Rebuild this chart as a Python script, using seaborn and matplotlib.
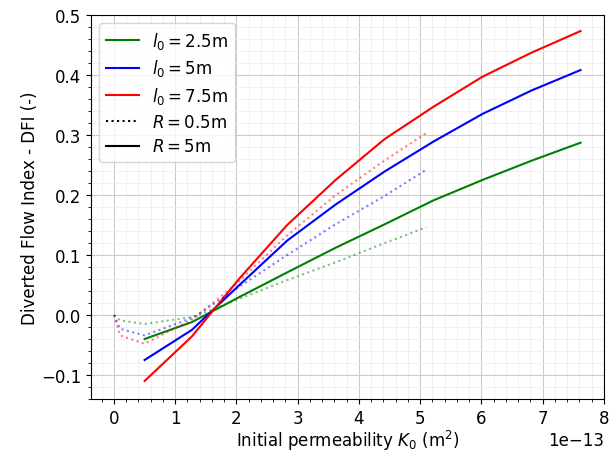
import numpy as np
import matplotlib
matplotlib.use('Agg')
import matplotlib.pyplot as plt
import seaborn as sns
from matplotlib.lines import Line2D

# Permeabilidad inicial (en unidades de 1e-13 m2)
k0_r5 = [0.5, 1.27, 2.05, 2.83, 3.62, 4.42, 5.22, 6.02, 6.82, 7.62]
k0_r05 = [0.0, 0.1, 0.5, 1.3, 2.0, 2.8, 3.6, 4.4, 5.1]

# DFI para R = 5 m
dfi_r5_l25 = [-0.040, -0.012, 0.030, 0.071, 0.112, 0.151, 0.191, 0.225, 0.257, 0.287]
dfi_r5_l5 = [-0.075, -0.025, 0.050, 0.124, 0.184, 0.239, 0.289, 0.335, 0.374, 0.408]
dfi_r5_l75 = [-0.110, -0.036, 0.061, 0.150, 0.225, 0.293, 0.347, 0.397, 0.437, 0.473]

# DFI para R = 0.5 m
dfi_r05_l25 = [0.0, -0.009, -0.015, -0.003, 0.025, 0.057, 0.087, 0.119, 0.146]
dfi_r05_l5 = [0.0, -0.023, -0.034, -0.004, 0.044, 0.098, 0.150, 0.197, 0.242]
dfi_r05_l75 = [0.0, -0.034, -0.048, -0.006, 0.052, 0.130, 0.198, 0.256, 0.303]

etiquetas = [r'$l_0 = 2.5$m', r'$l_0 = 5$m', r'$l_0 = 7.5$m', r'$R = 0.5$m', r'$R = 5$m']
colores = ['green', 'blue', 'red']

x5 = np.array(k0_r5) * 1e-13
x05 = np.array(k0_r05) * 1e-13

fig, ax = plt.subplots(figsize=(6.13, 4.52), dpi=100)
fig.subplots_adjust(left=0.148, right=0.985, top=0.965, bottom=0.115)

for y, c in zip([dfi_r5_l25, dfi_r5_l5, dfi_r5_l75], colores):
    sns.lineplot(x=x5, y=y, color=c, linewidth=1.5, ax=ax, legend=False)
for y, c in zip([dfi_r05_l25, dfi_r05_l5, dfi_r05_l75], colores):
    sns.lineplot(x=x05, y=y, color=c, linewidth=1.5, linestyle=':', alpha=0.5, ax=ax, legend=False)

ax.set_xlim(-0.38e-13, 8e-13)
ax.set_ylim(-0.14, 0.5)
ax.minorticks_on()
ax.grid(which='major', color='#cccccc', linewidth=0.8)
ax.grid(which='minor', color='#eeeeee', linewidth=0.6)
ax.set_axisbelow(True)

ax.set_xlabel(r'Initial permeability $K_0$ (m$^2$)', fontsize=12, labelpad=1)
ax.set_ylabel('Diverted Flow Index - DFI (-)', fontsize=12, labelpad=1)
ax.tick_params(labelsize=12)
ax.xaxis.get_offset_text().set_fontsize(12)

handles = [Line2D([], [], color=c) for c in colores]
handles += [Line2D([], [], color='black', linestyle=':'), Line2D([], [], color='black')]
ax.legend(handles, etiquetas, loc='upper left', fontsize=12, labelspacing=0.4)

plt.savefig('out.png')
